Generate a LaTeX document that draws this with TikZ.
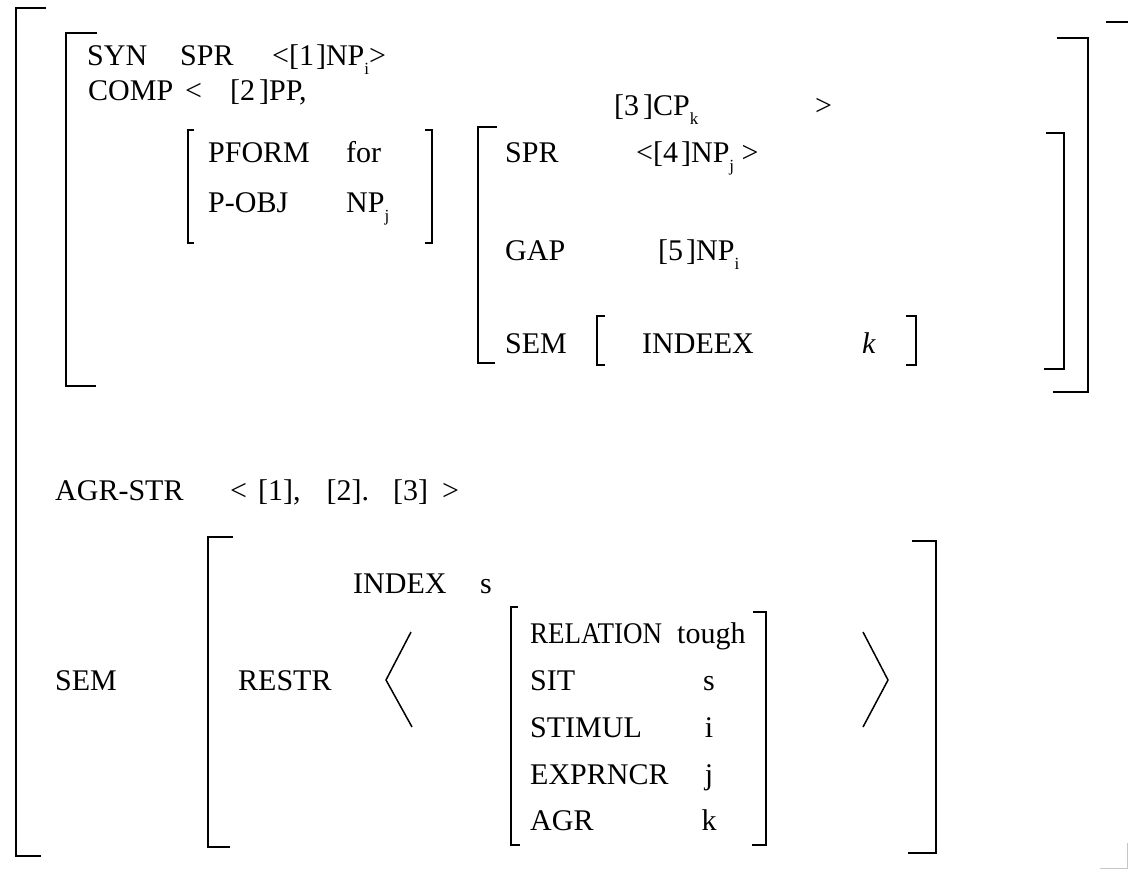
\documentclass[tikz,border=0pt]{standalone}
\usepackage{fontspec}
\setmainfont{Liberation Serif}
\newcommand\lsub[1]{\raisebox{-0.3em}{\fontsize{17}{17}\selectfont #1}}
\begin{document}
\begin{tikzpicture}[x=1pt,y=-1pt,
  t/.style={inner sep=0pt, anchor=base west, font=\fontsize{30}{36}\selectfont},
  tc/.style={inner sep=0pt, anchor=base, font=\fontsize{30}{36}\selectfont},
  br/.style={line width=1.8pt, line join=miter},
  ang/.style={line width=1.5pt, line join=miter}]
\useasboundingbox (0,0) rectangle (1129,870);
% upper SYN block
\node[t] (syn) at (87,65) {SYN};
\node[t] (synspr) at (180,65) {SPR};
\node[t] (spr1) at (272,65) {<[1\hspace{2pt}]NP\lsub{i}>};
\node[t] (comp) at (88,100) {COMP};
\node[t] (complt) at (185,100) {<};
\node[t] (pp) at (230,100) {[2\hspace{4pt}]PP,};
\node[t] (cp) at (614,115) {[3\hspace{4pt}]CP\lsub{k}};
\node[t] (compgt) at (815,115) {>};
\node[t] (pform) at (208,162) {PFORM};
\node[t] (for) at (346,162) {for};
\node[t] (pobj) at (208,212) {P-OBJ};
\node[t] (npj) at (346,212) {NP\lsub{j}};
\node[t] (spr2) at (505,162) {SPR};
\node[t] (np4) at (636,162) {<[4\hspace{3pt}]NP\lsub{j} >};
\node[t] (gap) at (505,260) {GAP};
\node[t] (np5) at (658,260) {[5\hspace{3pt}]NP\lsub{i}};
\node[t] (sem1) at (505,353) {SEM};
\node[t] (indeex) at (642,353) {INDEEX};
\node[t] (kk) at (862,353) {\textit{k}};
% AGR-STR
\node[t] (agrstr) at (55,500) {AGR-STR};
\node[t] (agrlist) at (230,500) {<\hspace{11pt}[1],\hspace{26pt}[2].\hspace{24pt}[3]\hspace{14pt}>};
% SEM block
\node[t] (index) at (353,593) {INDEX};
\node[t] (idxs) at (480,593) {s};
\node[t] (sem2) at (55,690) {SEM};
\node[t] (restr) at (238,690) {RESTR};
\node[t] (rel) at (530,643) {\scalebox{0.9}[1]{RELATION}};
\node[t] (tough) at (677,643) {tough};
\node[t] (sit) at (530,690) {SIT};
\node[tc] (sits) at (709,690) {s};
\node[t] (stim) at (530,737) {STIMUL};
\node[tc] (stimi) at (709,737) {i};
\node[t] (expr) at (530,784) {EXPRNCR};
\node[tc] (exprj) at (709,784) {j};
\node[t] (agr) at (530,830) {AGR};
\node[tc] (agrk) at (709,830) {k};
% brackets
\draw[br] (46,8) -- (16,8) -- (16,856) -- (41,856);
\draw[br] (1106,22) -- (1128,22);
\draw[gray!45, line width=0.8pt] (1100,868) -- (1127,868) -- (1127,843);
\draw[br] (97,33) -- (66,33) -- (66,386) -- (96,386);
\draw[br] (1057,38) -- (1088,38) -- (1088,392) -- (1053,392);
\draw[br] (194,130) -- (188,130) -- (188,243) -- (194,243);
\draw[br] (425,130) -- (432,130) -- (432,243) -- (425,243);
\draw[br] (497,127) -- (478,127) -- (478,363) -- (495,363);
\draw[br] (1046,133) -- (1064,133) -- (1064,369) -- (1044,369);
\draw[br] (605,316) -- (597,316) -- (597,365) -- (605,365);
\draw[br] (906,316) -- (916,316) -- (916,365) -- (906,365);
\draw[br] (233,537) -- (208,537) -- (208,847) -- (230,847);
\draw[br] (912,541) -- (936,541) -- (936,853) -- (908,853);
\draw[br] (518,607) -- (511,607) -- (511,845) -- (520,845);
\draw[br] (753,612) -- (766,612) -- (766,845) -- (752,845);
\draw[ang] (411,632) -- (386,680) -- (412,727);
\draw[ang] (863,632) -- (888,680) -- (863,727);
\end{tikzpicture}
\end{document}
